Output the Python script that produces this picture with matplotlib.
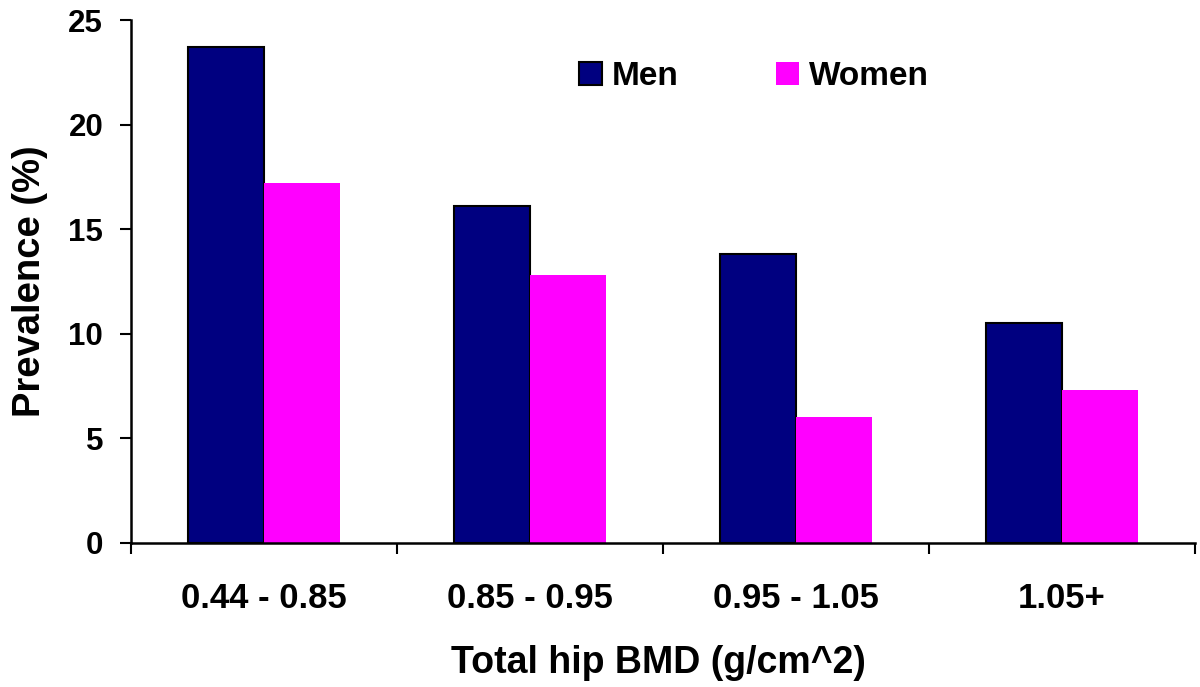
import matplotlib.pyplot as plt
import numpy as np

# data
categories = ['0.44 - 0.85', '0.85 - 0.95', '0.95 - 1.05', '1.05+']
men = [23.7, 16.1, 13.8, 10.5]
women = [17.2, 12.8, 6.0, 7.3]
y_ticks = [0, 5, 10, 15, 20, 25]

plt.rcParams['font.family'] = ['Liberation Sans', 'DejaVu Sans']
plt.rcParams['font.weight'] = 'bold'

fig = plt.figure(figsize=(12, 6.87), dpi=100)
ax = fig.add_axes([131 / 1200, 144 / 687, 1064 / 1200, 523 / 687])

x = np.arange(len(categories))
w = 0.286
ax.bar(x - w / 2, men, width=w, color='#000080', edgecolor='black', linewidth=1.5, label='Men')
ax.bar(x + w / 2, women, width=w, color='#FF00FF', edgecolor='none', label='Women')

ax.set_xlim(-0.5, len(categories) - 0.5)
ax.set_ylim(0, 25)
ax.set_yticks(y_ticks)

# category boundaries as major ticks, labels at minor ticks in the middle
ax.set_xticks(np.arange(-0.5, len(categories), 1.0))
ax.set_xticklabels([])
ax.set_xticks(x, minor=True)
ax.set_xticklabels(categories, minor=True, fontsize=25, fontweight='bold')
ax.tick_params(axis='x', which='minor', length=0, pad=28)
ax.tick_params(axis='x', which='major', length=8, width=1.5, direction='out')
ax.tick_params(axis='y', length=8, width=1.5, direction='out', labelsize=22.5, pad=12)
for lab in ax.get_yticklabels():
    lab.set_fontweight('bold')

for s in ['top', 'right']:
    ax.spines[s].set_visible(False)
for s in ['left', 'bottom']:
    ax.spines[s].set_linewidth(1.8)

ax.set_ylabel('Prevalence (%)', fontsize=27.5, fontweight='bold')
ax.yaxis.set_label_coords(-0.078, 0.5)
ax.set_xlabel('Total hip BMD (g/cm^2)', fontsize=27, fontweight='bold')
ax.xaxis.set_label_coords(0.496, -0.195)

fig.legend(loc='center', bbox_to_anchor=(754 / 1200, 0.888), ncol=2, frameon=False,
           prop={'size': 24, 'weight': 'bold'}, handlelength=0.7, handleheight=0.7,
           handletextpad=0.3, columnspacing=2.9)

plt.savefig('out.png', dpi=100)
